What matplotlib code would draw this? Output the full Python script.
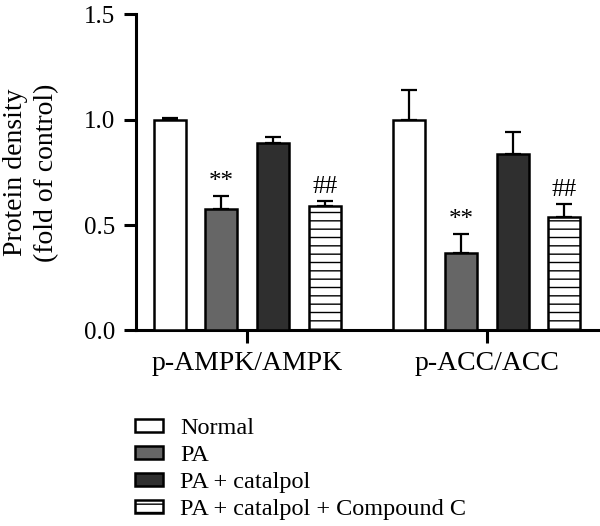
import numpy as np
import matplotlib
matplotlib.use("Agg")
import matplotlib.pyplot as plt

plt.rcParams['font.family'] = ['Liberation Serif', 'DejaVu Serif']
plt.rcParams['hatch.linewidth'] = 1.0

# data
categories = ['p-AMPK/AMPK', 'p-ACC/ACC']
groups = ['Normal', 'PA', 'PA + catalpol', 'PA + catalpol + Compound C']
normal = [1.00, 1.00]
normal_err = [0.01, 0.14]
pa = [0.577, 0.368]
pa_err = [0.063, 0.092]
catalpol = [0.89, 0.84]
catalpol_err = [0.03, 0.10]
compound_c = [0.59, 0.54]
compound_c_err = [0.026, 0.062]
marks = ['', '**', '', '##']

means = [normal, pa, catalpol, compound_c]
errs = [normal_err, pa_err, catalpol_err, compound_c_err]
colors = ['white', '#666666', '#2f2f2f', 'white']
hatches = [None, None, None, '--']

fig = plt.figure(figsize=(6.0, 5.26), dpi=100)
ax = fig.add_axes([0.2267, 0.3717, 0.77, 0.6008])

centers = np.arange(len(categories)) * 4.64
width = 0.62
lw = 1.8

for i, g in enumerate(groups):
    x = centers + (i - 1.5)
    ax.bar(x, means[i], width, color=colors[i], edgecolor='black',
           linewidth=lw, hatch=hatches[i], label=g, zorder=3)
    ax.errorbar(x, means[i], yerr=[np.zeros(len(x)), errs[i]], fmt='none',
                ecolor='black', elinewidth=1.6, capsize=6, capthick=1.6, zorder=2)
    if marks[i]:
        for xx, m, e in zip(x, means[i], errs[i]):
            ax.annotate(marks[i], (xx, m + e), xytext=(0, 2), textcoords='offset points',
                        ha='center', va='bottom', fontsize=18)

ax.set_xlim(-2.15, 6.79)
ax.set_ylim(0, 1.5)
ax.set_yticks([0.0, 0.5, 1.0, 1.5])
ax.set_yticklabels(['0.0', '0.5', '1.0', '1.5'], fontsize=18)
ax.set_xticks(centers)
ax.set_xticklabels(categories, fontsize=20)

for s in ['top', 'right']:
    ax.spines[s].set_visible(False)
for s in ['left', 'bottom']:
    ax.spines[s].set_linewidth(2.2)
ax.tick_params(axis='both', length=9, width=2.2, pad=6)

ax.set_ylabel('Protein density\n(fold of control)', fontsize=20, linespacing=1.3, labelpad=18)

fig.legend(loc='upper left', bbox_to_anchor=(0.225, 0.205), frameon=False,
           fontsize=17.5, handlelength=1.15, handleheight=0.45,
           handletextpad=0.7, labelspacing=0.25, borderaxespad=0, borderpad=0)

fig.savefig('out.png', dpi=100)
